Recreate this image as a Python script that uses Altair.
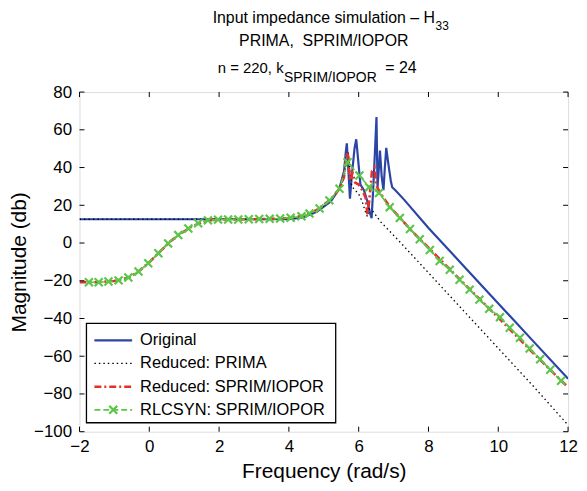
import altair as alt
import pandas as pd

# ---------------- data ----------------
x_ticks = [-2, 0, 2, 4, 6, 8, 10, 12]
y_ticks = [-100, -80, -60, -40, -20, 0, 20, 40, 60, 80]

orig_x = [-2.0, 4.0, 4.4, 4.8, 5.2, 5.45, 5.58, 5.63, 5.66, 5.70, 5.75, 5.80, 5.88, 5.93,
          5.98, 6.05, 6.15, 6.25, 6.32, 6.37, 6.42, 6.47, 6.51, 6.54, 6.58, 6.61, 6.66,
          6.71, 6.75, 6.79, 6.85, 6.92, 6.96, 7.05, 7.3, 8.0, 9.0, 10.0, 11.0, 12.0]
orig_y = [12.6, 12.6, 13.5, 16.5, 22.0, 29.0, 38.0, 48.0, 52.8, 40.0, 23.5, 35.0, 50.0, 55.0,
          45.0, 31.0, 28.0, 22.0, 16.0, 13.2, 30.0, 50.0, 66.8, 29.6, 40.0, 49.0, 35.0,
          28.0, 40.0, 50.4, 42.0, 33.0, 29.6, 28.0, 23.0, 8.0, -12.0, -32.0, -52.0, -72.0]

prima_x = [-2.0, 4.0, 4.4, 4.8, 5.2, 5.45, 5.58, 5.65, 5.70, 5.75, 5.80, 5.90, 6.00, 6.10,
           6.20, 6.25, 6.30, 6.40, 6.63, 7.11, 8.0, 9.0, 10.0, 11.0, 12.0]
prima_y = [12.6, 12.7, 13.8, 17.0, 22.5, 29.0, 35.0, 42.0, 48.0, 38.0, 30.0, 28.0, 26.0, 22.0,
           16.0, 14.0, 18.0, 17.0, 11.2, 2.0, -15.8, -35.8, -55.8, -75.8, -96.5]

sprim_x = [-2.0, -1.5, -1.0, -0.6, -0.3, 0.0, 0.3, 0.6, 0.9, 1.2, 1.5, 1.8, 2.2, 3.0, 3.6,
           4.0, 4.4, 4.8, 5.2, 5.45, 5.58, 5.66, 5.70, 5.75, 5.82, 5.90, 6.00, 6.10, 6.20,
           6.25, 6.30, 6.38, 6.45, 6.52, 6.60, 6.75, 6.90, 7.20, 7.50, 8.0, 9.0, 10.0, 11.0, 12.0]
sprim_y = [-20.8, -20.8, -20.1, -18.3, -15.0, -10.2, -4.7, 0.8, 5.0, 8.5, 11.0, 12.2, 12.5,
           12.6, 12.9, 13.3, 14.4, 17.5, 23.2, 28.8, 35.0, 48.0, 46.0, 33.0, 37.0, 32.0, 31.0,
           28.0, 24.0, 15.0, 22.0, 38.0, 40.0, 30.0, 27.0, 23.0, 19.0, 13.0, 6.8, -2.5, -21.2,
           -39.5, -58.3, -76.5]

rlc_x = [-1.73, -1.45, -1.17, -0.88, -0.60, -0.31, -0.03, 0.26, 0.54, 0.83, 1.12, 1.40, 1.68,
         1.97, 2.26, 2.55, 2.85, 3.15, 3.45, 3.75, 4.05, 4.36, 4.59, 4.88, 5.16, 5.45, 5.68,
         6.02, 6.30, 6.58, 6.89, 7.18, 7.47, 7.75, 8.04, 8.32, 8.61, 8.89, 9.18, 9.46, 9.74,
         10.05, 10.33, 10.62, 10.90, 11.20, 11.49, 11.80]
rlc_y = [-20.8, -20.8, -20.4, -19.8, -18.3, -15.1, -10.7, -5.4, -0.2, 4.2, 7.7, 10.5, 12.0,
         12.4, 12.5, 12.5, 12.6, 12.7, 12.8, 13.0, 13.4, 14.2, 15.6, 18.3, 22.6, 28.8, 42.8,
         35.8, 29.6, 26.5, 19.0, 13.3, 7.4, 2.0, -3.7, -9.5, -14.2, -19.5, -24.7, -30.0, -34.9,
         -39.3, -44.9, -50.2, -55.9, -61.6, -67.2, -73.0]

legend_labels = ["Original", "Reduced: PRIMA", "Reduced: SPRIM/IOPOR", "RLCSYN: SPRIM/IOPOR"]

# ---------------- styling ----------------
W, H = 492, 342
FONT = "Liberation Sans"
BLUE = "#2b45a6"
RED = "#e4302a"
GREEN = "#5cc64a"
XMARK = "M-1,-1L1,1M-1,1L1,-1"
DOT = [1.5, 3]
DASHDOT = [7, 3, 2, 3]
DASH = [6, 3]

xs = alt.Scale(domain=[-2, 12], nice=False, zero=False)
ys = alt.Scale(domain=[-100, 80], nice=False, zero=False)

x_axis = alt.Axis(values=x_ticks, title="Frequency (rad/s)", ticks=False, domain=False,
                  grid=False, labelFontSize=17, labelFont=FONT, labelColor="black",
                  labelPadding=7, labelFlush=False, titleFontSize=21, titleFont=FONT,
                  titleFontWeight="normal", titleColor="black", titlePadding=6)
y_axis = alt.Axis(values=y_ticks, title="Magnitude (db)", ticks=False, domain=False,
                  grid=False, labelFontSize=17, labelFont=FONT, labelColor="black",
                  labelPadding=8, labelFlush=False, titleFontSize=21, titleFont=FONT,
                  titleFontWeight="normal", titleColor="black", titlePadding=4)


def series(xv, yv, color, width, dash=None):
    df = pd.DataFrame({"x": xv, "y": yv})
    kw = dict(color=color, strokeWidth=width, clip=True)
    if dash:
        kw["strokeDash"] = dash
    return alt.Chart(df).mark_line(**kw).encode(
        x=alt.X("x:Q", scale=xs, axis=x_axis),
        y=alt.Y("y:Q", scale=ys, axis=y_axis),
    )


blue = series(orig_x, orig_y, BLUE, 2.2)
black = series(prima_x, prima_y, "black", 1.3, DOT)
red = series(sprim_x, sprim_y, RED, 2.6, DASHDOT)
green = series(rlc_x, rlc_y, GREEN, 1.6, DASH)
green_pts = alt.Chart(pd.DataFrame({"x": rlc_x, "y": rlc_y})).mark_point(
    shape=XMARK, filled=False, size=64, strokeWidth=2.2, color=GREEN, opacity=1, clip=True
).encode(x=alt.X("x:Q", scale=xs, axis=x_axis), y=alt.Y("y:Q", scale=ys, axis=y_axis))

# inward ticks on all four sides
xt = pd.DataFrame({"x": x_ticks})
yt = pd.DataFrame({"y": y_ticks})
tick_layers = [
    alt.Chart(xt).mark_rule(color="black", strokeWidth=1).encode(
        x=alt.X("x:Q", scale=xs, axis=x_axis), y=alt.value(H), y2=alt.value(H - 5)),
    alt.Chart(xt).mark_rule(color="black", strokeWidth=1).encode(
        x=alt.X("x:Q", scale=xs, axis=x_axis), y=alt.value(0), y2=alt.value(5)),
    alt.Chart(yt).mark_rule(color="black", strokeWidth=1).encode(
        y=alt.Y("y:Q", scale=ys, axis=y_axis), x=alt.value(0), x2=alt.value(5)),
    alt.Chart(yt).mark_rule(color="black", strokeWidth=1).encode(
        y=alt.Y("y:Q", scale=ys, axis=y_axis), x=alt.value(W - 5), x2=alt.value(W)),
]

one = pd.DataFrame({"a": [0]})

# legend
leg_box = alt.Chart(one).mark_rect(fill="white", stroke="black", strokeWidth=1.3).encode(
    x=alt.value(7), x2=alt.value(258), y=alt.value(233), y2=alt.value(333))
leg_rows = [250, 273.3, 296.7, 320]
leg_styles = [(BLUE, 2.2, None), ("black", 1.3, DOT), (RED, 2.6, DASHDOT), (GREEN, 1.6, DASH)]
leg_layers = [leg_box]
for lab, yy, (col, wd, dsh) in zip(legend_labels, leg_rows, leg_styles):
    kw = dict(color=col, strokeWidth=wd)
    if dsh:
        kw["strokeDash"] = dsh
    leg_layers.append(alt.Chart(one).mark_rule(**kw).encode(
        x=alt.value(15), x2=alt.value(53), y=alt.value(yy)))
    leg_layers.append(alt.Chart(one).mark_text(
        text=lab, font=FONT, fontSize=16.5, align="left", baseline="middle", color="black"
    ).encode(x=alt.value(61), y=alt.value(yy)))
leg_layers.append(alt.Chart(one).mark_point(
    shape=XMARK, filled=False, size=64, strokeWidth=2.2, color=GREEN, opacity=1
).encode(x=alt.value(34), y=alt.value(leg_rows[3])))


def txt(s, x, y, size, align):
    return alt.Chart(one).mark_text(
        text=s, font=FONT, fontSize=size, align=align, baseline="alphabetic", color="black"
    ).encode(x=alt.value(x), y=alt.value(y))


title_layers = [
    txt("Input impedance simulation \u2013 H", 358, -70, 16, "right"),
    txt("33", 358.5, -63, 12, "left"),
    txt("PRIMA,\u00a0 SPRIM/IOPOR", 246, -46, 16, "center"),
    txt("n = 220, k", 205.5, -19.5, 15, "right"),
    txt("SPRIM/IOPOR", 206, -10.5, 14, "left"),
    txt("= 24", 308, -19.5, 16, "left"),
]

chart = alt.layer(
    blue, black, red, green, green_pts, *tick_layers, *leg_layers, *title_layers
).properties(
    width=W, height=H,
    autosize=alt.AutoSizeParams(type="none"),
    padding={"left": 72, "top": 83, "right": 11, "bottom": 50},
).configure_view(stroke="black", strokeWidth=1.3).configure(background="white")

chart.save("out.html", embed_options={"renderer": "svg", "actions": False})
